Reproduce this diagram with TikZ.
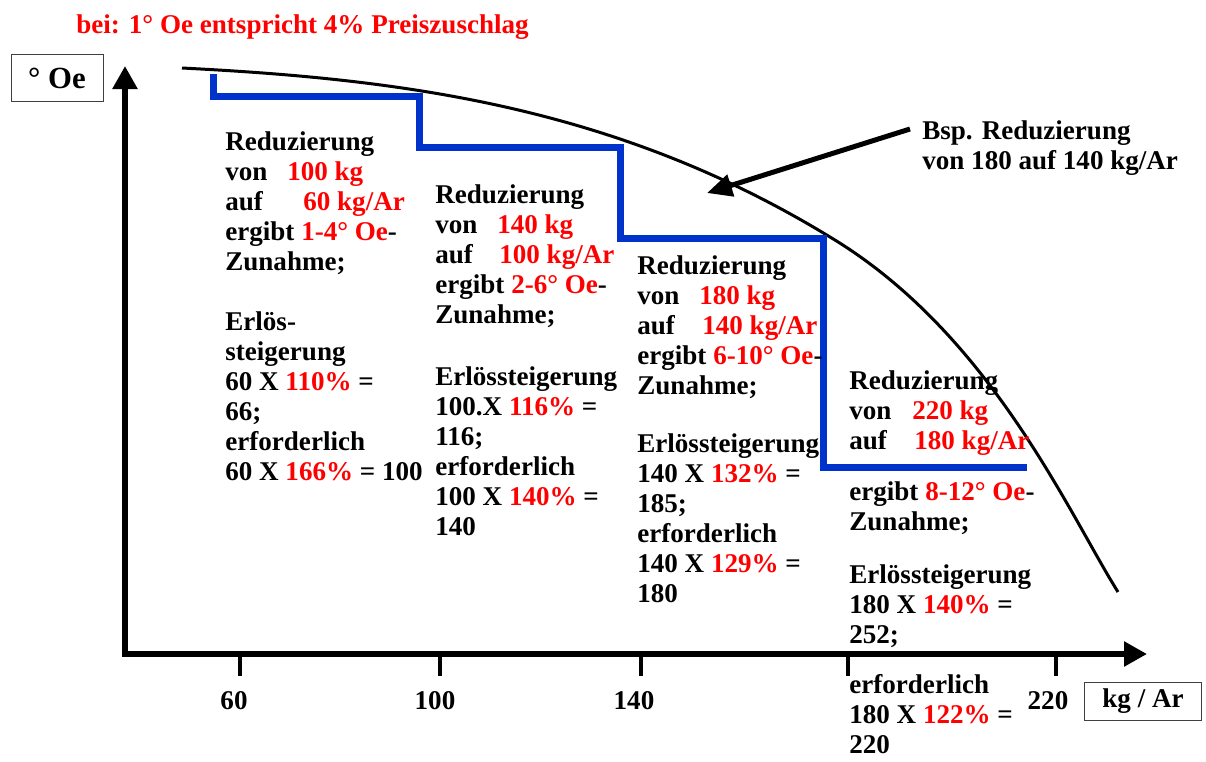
\documentclass[tikz,border=0pt]{standalone}
\usepackage{fontspec}
\setmainfont{Liberation Serif}
\usetikzlibrary{calc}
\usetikzlibrary{positioning}
\usetikzlibrary{arrows.meta}
\definecolor{stufenblau}{RGB}{0,51,204}
\newcommand{\rot}[1]{\textcolor{red}{#1}}

\begin{document}
\begin{tikzpicture}[x=0.2mm, y=-0.2mm]
      \tikzset{tblock/.style={anchor=north west, inner sep=0pt, align=left,
        font=\fontsize{15.4pt}{17.07pt}\selectfont\bfseries}};
      \tikzset{ubox/.style={draw=black!75, line width=0.5pt, inner sep=0pt,
        font=\fontsize{15.4pt}{17.07pt}\selectfont\bfseries}};
      \tikzset{achse/.style={line width=1.1mm, line join=miter,
        {Triangle[width=4.8mm,length=4.6mm]}-{Triangle[width=4.8mm,length=4.6mm]}}};
      \tikzset{strich/.style={line width=0.9mm}};
      \tikzset{stufe/.style={draw=stufenblau, line width=1.4mm}};
      \tikzset{kurve/.style={line width=0.6mm}};
      \tikzset{pfeil/.style={line width=1mm, -{Triangle[width=4.4mm,length=5mm]}}};
      \useasboundingbox (0,0) rectangle (1206,761);

      % Ueberschrift
      \node[tblock, anchor=base west, text=red](titel) at (76,33){bei: 1° Oe entspricht 4\% Preiszuschlag};

      % Achsen
      \coordinate (ursprung) at (125,654);
      \coordinate (yspitze) at (125,66);
      \coordinate (xspitze) at (1147,654);
      \draw[achse] (yspitze) -- (ursprung) -- (xspitze);
      \node[ubox, minimum width=18.4mm, minimum height=9.4mm,
        font=\fontsize{17.5pt}{19pt}\selectfont\bfseries](oe) at (57,78){° Oe};
      \node[ubox, minimum width=23.4mm, minimum height=7.6mm](kgar) at (1143,701){kg / Ar};

      % Teilstriche
      \foreach \x in {240,440,641,848,1056}
        \draw[strich] (\x,654) -- (\x,676);
      \foreach \x/\lab in {234/60, 435/100, 634/140, 1048/220}
        \node[font=\fontsize{15.4pt}{17.07pt}\selectfont\bfseries, inner sep=0pt](tl\lab) at (\x,701){\lab};

      % Kurve
      \draw[kurve] (182,68) .. controls (398,79) and (614,105) .. (830,237)
        .. controls (990,333) and (1068,512) .. (1118,592);

      % Treppe
      \draw[stufe] (213,74) -- (213,96) -- (419,96) -- (419,147) -- (620,147)
        -- (620,238) -- (823,238) -- (823,467) -- (1027,467);

      % Textbloecke
      \node[tblock](stufeA) at (225,131){Reduzierung\\
        \makebox[12.4mm][l]{von}\rot{100 kg}\\
        \makebox[15.6mm][l]{auf}\rot{60 kg/Ar}\\
        ergibt \rot{1-4° Oe}-\\
        Zunahme;\\[6mm]
        Erlös-\\
        steigerung\\
        60 X \rot{110\%} =\\
        66;\\
        erforderlich\\
        60 X \rot{166\%} = 100};
      \node[tblock](stufeB) at (435,184){Reduzierung\\
        \makebox[12.4mm][l]{von}\rot{140 kg}\\
        \makebox[12.8mm][l]{auf}\rot{100 kg/Ar}\\
        ergibt \rot{2-6° Oe}-\\
        Zunahme;\\[6.5mm]
        Erlössteigerung\\
        100.X \rot{116\%} =\\
        116;\\
        erforderlich\\
        100 X \rot{140\%} =\\
        140};
      \node[tblock](stufeC) at (637,255){Reduzierung\\
        \makebox[12.4mm][l]{von}\rot{180 kg}\\
        \makebox[13mm][l]{auf}\rot{140 kg/Ar}\\
        ergibt \rot{6-10° Oe}-\\
        Zunahme;\\[5.6mm]
        Erlössteigerung\\
        140 X \rot{132\%} =\\
        185;\\
        erforderlich\\
        140 X \rot{129\%} =\\
        180};
      \node[tblock](stufeD) at (849,370){Reduzierung\\
        \makebox[12.6mm][l]{von}\rot{220 kg}\\
        \makebox[13mm][l]{auf}\rot{180 kg/Ar}};
      \node[tblock](stufeDb) at (849,481){ergibt \rot{8-12° Oe}-\\
        Zunahme;\\[4.6mm]
        Erlössteigerung\\
        180 X \rot{140\%} =\\
        252;};
      \node[tblock](stufeDc) at (849,674){erforderlich\\
        180 X \rot{122\%} =\\
        220};

      % Beispiel mit Pfeil
      \node[tblock](bsp) at (922,120){Bsp. Reduzierung\\von 180 auf 140 kg/Ar};
      \coordinate (pfeilziel) at (707,193);
      \draw[pfeil] ($(bsp.north west)+(-12,9)$) -- (pfeilziel);
\end{tikzpicture}
\end{document}
